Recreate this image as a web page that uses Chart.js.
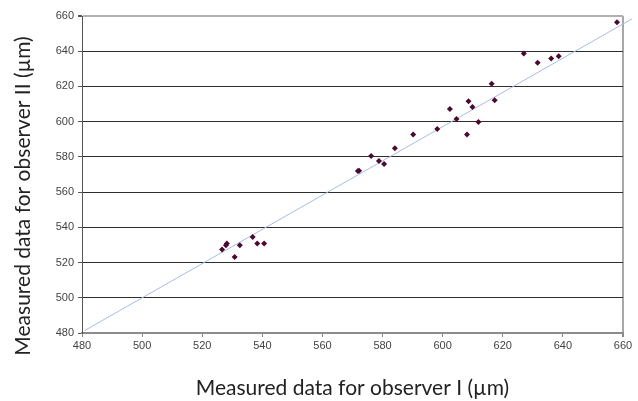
<!DOCTYPE html>
<html>
<head>
<meta charset="utf-8">
<script src="https://cdn.jsdelivr.net/npm/chart.js@4/dist/chart.umd.min.js"></script>
<style>
html,body{margin:0;padding:0;background:#fff;}
#wrap{width:638px;height:401px;position:relative;}
</style>
</head>
<body>
<div id="wrap"><canvas id="c" width="638" height="401"></canvas></div>
<script>
// Measured data (µm)
const observerI  = [658.0, 627.0, 631.6, 636.1, 638.6, 616.3, 617.3, 608.6, 609.9, 602.4, 604.6, 611.9, 608.1, 598.2, 590.2, 584.1, 576.2, 578.8, 580.5, 572.2, 571.8, 526.6, 527.9, 528.2, 530.8, 532.5, 536.8, 538.3, 540.6];
const observerII = [656.5, 638.7, 633.5, 635.8, 637.1, 621.6, 612.1, 611.6, 608.3, 607.2, 601.5, 599.8, 592.7, 595.8, 592.7, 584.9, 580.5, 577.7, 576.0, 572.2, 572.0, 527.4, 529.8, 530.8, 523.2, 529.8, 534.5, 530.8, 530.8];
// Trend line end points
const trendX = [481, 663];
const trendY = [481.5, 658.4];
// Axis ticks
const axisMin = 480, axisMax = 660, axisStep = 20;
const xTitle = 'Measured data for observer I (µm)';
const yTitle = 'Measured data for observer II (µm)';

const points = observerI.map((v, i) => ({x: v, y: observerII[i]}));
const trend = trendX.map((v, i) => ({x: v, y: trendY[i]}));

const tickFont = {family: "'Liberation Sans Narrow', 'Liberation Sans', Arial, sans-serif", size: 11};
const titleFont = {family: "Lato, 'Liberation Sans', sans-serif", size: 21};

// The reference's y title sits lower than the plot centre; pad its end with spaces.
const yTitleShown = yTitle + '\u00A0'.repeat(8);

new Chart(document.getElementById('c'), {
  type: 'scatter',
  data: {
    datasets: [
      {
        label: 'Trend',
        type: 'line',
        data: trend,
        borderColor: '#a8bce6',
        borderWidth: 1,
        pointRadius: 0,
        fill: false,
        clip: false,
        order: 2
      },
      {
        label: 'Observer I vs II',
        data: points,
        pointStyle: 'rectRot',
        pointRadius: 3,
        pointBackgroundColor: '#4a0a30',
        pointBorderColor: '#4a0a30',
        pointBorderWidth: 0,
        order: 1
      }
    ]
  },
  options: {
    responsive: false,
    animation: false,
    devicePixelRatio: 1,
    layout: {padding: {top: 16, right: 15, left: 11, bottom: 0}},
    plugins: {legend: {display: false}, tooltip: {enabled: false}},
    scales: {
      x: {
        type: 'linear',
        min: axisMin, max: axisMax,
        ticks: {stepSize: axisStep, color: '#444', font: tickFont, padding: 2, maxRotation: 0},
        grid: {
          color: ctx => (ctx.tick && ctx.tick.value === axisMax) ? '#a8a8a8' : 'rgba(0,0,0,0)',
          lineWidth: ctx => (ctx.tick && ctx.tick.value === axisMax) ? 2 : 1,
          tickColor: '#8a8a8a',
          tickLength: 4,
          drawTicks: true
        },
        border: {display: true, color: '#8c8c8c', width: 2},
        title: {display: true, text: xTitle, color: '#222', font: titleFont, padding: {top: 10, bottom: 0}},
        afterFit: s => { s.height = 68; }
      },
      y: {
        type: 'linear',
        min: axisMin, max: axisMax,
        ticks: {stepSize: axisStep, color: '#444', font: tickFont, padding: 4},
        grid: {
          color: ctx => (ctx.tick && ctx.tick.value === axisMax) ? '#b0b0b0' : '#2e2e2e',
          lineWidth: ctx => (ctx.tick && ctx.tick.value === axisMax) ? 2 : 1,
          tickColor: '#555',
          tickLength: 4,
          drawTicks: true
        },
        border: {display: true, color: '#555', width: 1},
        title: {display: true, text: yTitleShown, color: '#222', font: titleFont, padding: {top: 0, bottom: 6}},
        afterFit: s => { s.width = 71; }
      }
    }
  }
});
</script>
</body>
</html>
